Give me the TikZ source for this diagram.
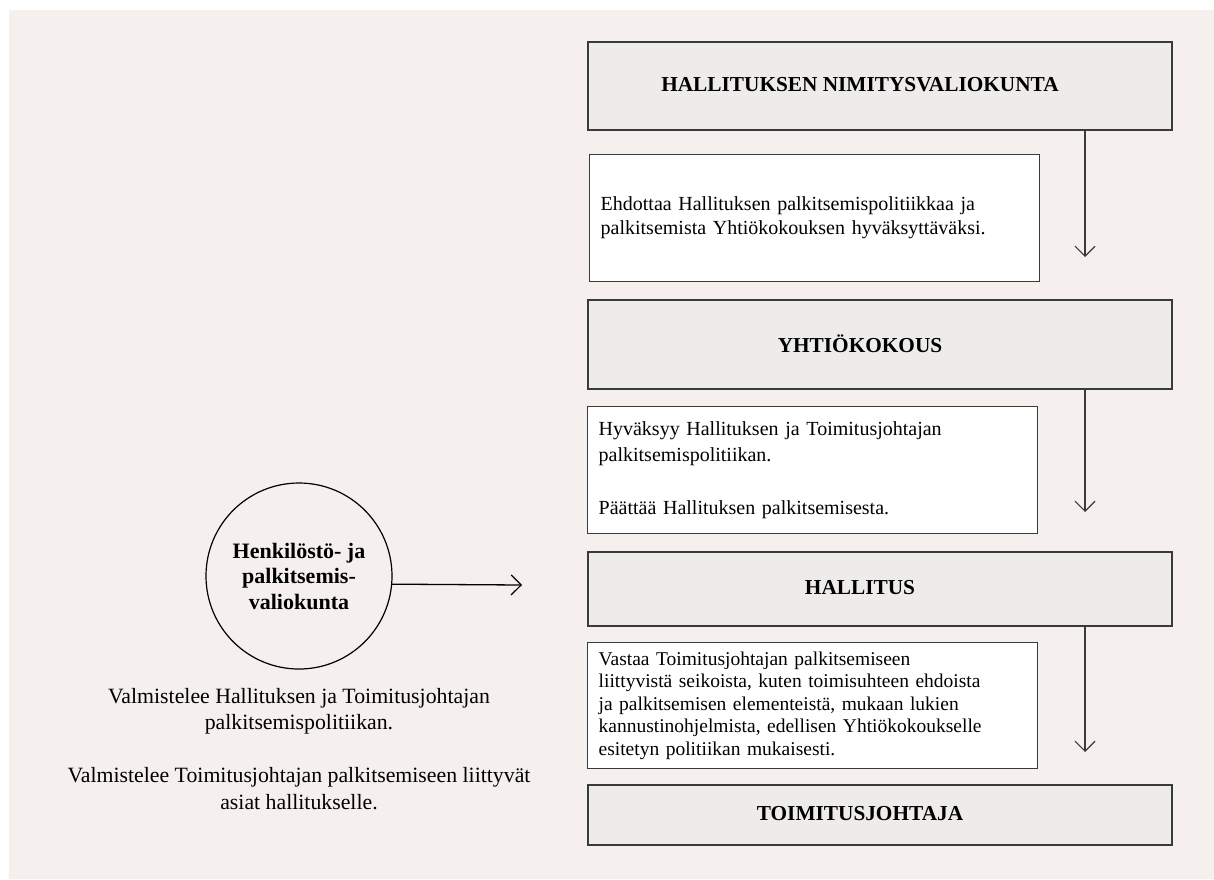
\documentclass[tikz,border=0pt]{standalone}
\usepackage{fontspec}
\setmainfont{Liberation Serif}
\usetikzlibrary{arrows.meta}
\definecolor{bgc}{HTML}{F5F0ED}
\definecolor{hdrc}{HTML}{EDECEA}
\definecolor{edgec}{HTML}{3A3A3A}
\tikzset{
  hdr/.style={draw=edgec, line width=1.5pt, fill=hdrc, minimum width=584pt, anchor=north west, inner sep=0pt},
  hdrtext/.style={font=\fontsize{21.3pt}{25pt}\selectfont\bfseries, inner sep=0pt},
  txtbox/.style={draw=edgec, line width=1.3pt, fill=white, anchor=north west, inner xsep=11pt, inner ysep=0pt, text width=428pt, align=left},
  arr/.style={draw=edgec, line width=1.3pt, -{Straight Barb[length=10pt,width=20pt,line width=1.2pt]}},
  circ/.style={draw=black, line width=1.2pt, circle, minimum size=186pt, inner sep=0pt, align=center, font=\fontsize{22pt}{25.5pt}\selectfont\bfseries},
}
\begin{document}
\begin{tikzpicture}[x=1pt,y=-1pt]
\useasboundingbox (0,0) rectangle (1214,879);
\fill[bgc] (9,10) rectangle (1214,879);
% header boxes
\node[hdr, minimum height=88pt] (h1) at (587,41) {};
\node[hdrtext] (h1t) at (860,85) {HALLITUKSEN NIMITYSVALIOKUNTA};
\node[hdr, minimum height=89pt] (h2) at (587,299) {};
\node[hdrtext] (h2t) at (860,343.5) {YHTIÖKOKOUS};
\node[hdr, minimum height=74pt] (h3) at (587,551) {};
\node[hdrtext] (h3t) at (860,588) {HALLITUS};
\node[hdr, minimum height=60pt] (h4) at (587,784) {};
\node[hdrtext] (h4t) at (860,814) {TOIMITUSJOHTAJA};
% text boxes
\node[txtbox, minimum height=127pt, font=\fontsize{20pt}{24pt}\selectfont] (b1) at (589,154)
  {Ehdottaa Hallituksen palkitsemispolitiikkaa ja\\palkitsemista Yhtiökokouksen hyväksyttäväksi.};
\node[txtbox, minimum height=127pt, font=\fontsize{20pt}{26pt}\selectfont] (b2) at (587,406)
  {Hyväksyy Hallituksen ja Toimitusjohtajan\\palkitsemispolitiikan.\\[27pt]Päättää Hallituksen palkitsemisesta.};
\node[txtbox, minimum height=126pt, font=\fontsize{19.5pt}{22.5pt}\selectfont] (b3) at (587,642)
  {Vastaa Toimitusjohtajan palkitsemiseen\\liittyvistä seikoista, kuten toimisuhteen ehdoista\\ja palkitsemisen elementeistä, mukaan lukien\\kannustinohjelmista, edellisen Yhtiökokoukselle\\esitetyn politiikan mukaisesti.};
% vertical arrows
\coordinate (t1) at (1085,257);
\coordinate (t2) at (1085,512);
\coordinate (t3) at (1085,752);
\draw[arr] (h1.south -| t1) -- (t1);
\draw[arr] (h2.south -| t2) -- (t2);
\draw[arr] (h3.south -| t3) -- (t3);
% circle
\node[circ] (c) at (299,576) {Henkilöstö- ja\\palkitsemis-\\valiokunta};
\coordinate (ct) at (522,585);
\draw[arr, draw=black] (c.-5.6) -- (ct);
\node[align=center, inner sep=0pt, font=\fontsize{21.8pt}{26.5pt}\selectfont, anchor=north] (note) at (299,688)
  {Valmistelee Hallituksen ja Toimitusjohtajan\\palkitsemispolitiikan.\\[26.5pt]Valmistelee Toimitusjohtajan palkitsemiseen liittyvät\\asiat hallitukselle.};
\end{tikzpicture}
\end{document}
